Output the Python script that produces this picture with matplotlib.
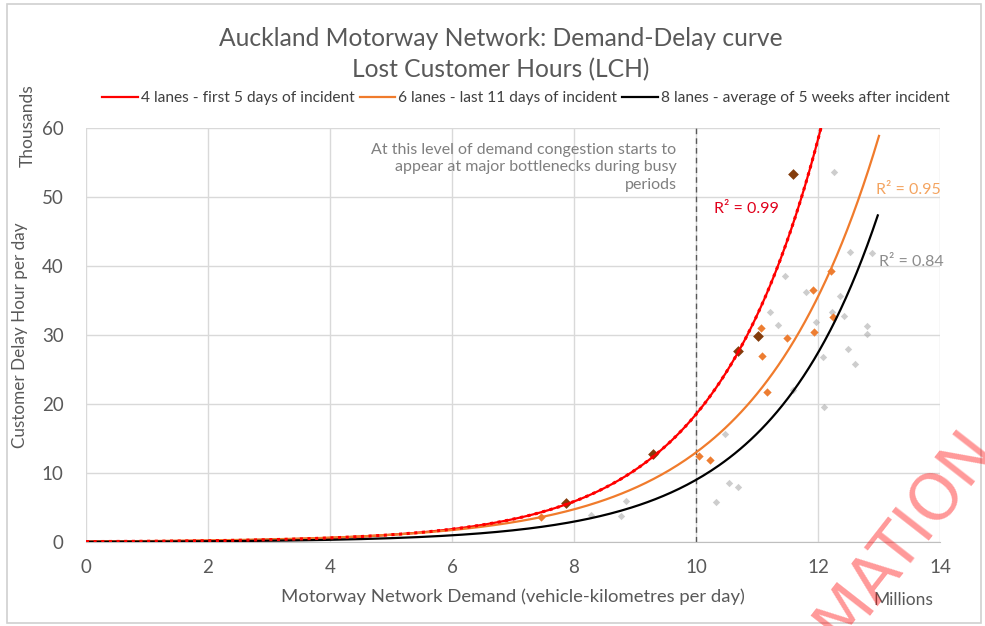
import numpy as np
import matplotlib
matplotlib.use("Agg")
import matplotlib.pyplot as plt
from matplotlib.patches import Rectangle

plt.rcParams["font.family"] = ["Lato", "DejaVu Sans"]

# series names
SERIES = ["4 lanes - first 5 days of incident",
          "6 lanes - last 11 days of incident",
          "8 lanes - average of 5 weeks after incident"]
LINE_COLORS = ["#FF0000", "#F07B2C", "#000000"]

# exponential trendlines y = a * exp(b * x)
TREND_A = [0.0595, 0.084, 0.0343]
TREND_B = [0.574, 0.504, 0.557]
TREND_XMAX = [12.2, 13.0, 12.98]
R2_TEXT = ["R² = 0.99", "R² = 0.95", "R² = 0.84"]

# observed points (millions vkm, thousand hours)
red_x = [7.87, 9.3, 10.69, 11.02, 11.59]
red_y = [5.7, 12.7, 27.7, 29.8, 53.4]

orange_x = [7.46, 10.05, 10.23, 11.07, 11.08, 11.16, 11.49, 11.92, 11.93, 12.21, 12.25]
orange_y = [3.6, 12.4, 11.9, 31.0, 26.9, 21.7, 29.5, 36.5, 30.4, 39.3, 32.6]

grey_x = [8.28, 8.77, 8.85, 10.33, 10.48, 10.54, 10.69, 11.21, 11.34, 11.46, 11.59, 11.8,
          11.97, 12.08, 12.1, 12.23, 12.26, 12.36, 12.43, 12.49, 12.52, 12.61, 12.8, 12.8, 12.89]
grey_y = [3.9, 3.7, 6.0, 5.8, 15.6, 8.6, 8.0, 33.3, 31.4, 38.6, 22.1, 36.2,
          31.9, 26.8, 19.5, 33.3, 53.6, 35.7, 32.8, 27.9, 42.1, 25.8, 31.3, 30.1, 41.9]

THRESHOLD = 10

fig = plt.figure(figsize=(9.85, 6.26), dpi=100)
ax = fig.add_axes([86 / 985, 1 - 542 / 626, (940 - 86) / 985, (542 - 128) / 626])

txt = "#595959"

# scatter points
ax.scatter(grey_x, grey_y, marker="D", s=14, color="#A5A5A5", alpha=0.55, lw=0, zorder=3)
ax.scatter(orange_x, orange_y, marker="D", s=18, color="#ED7D31", lw=0, zorder=4)
ax.scatter(red_x, red_y, marker="D", s=30, color="#843C0C", lw=0, zorder=5)

# trend curves
for i in range(3):
    xs = np.linspace(0, TREND_XMAX[i], 300)
    ys = TREND_A[i] * np.exp(TREND_B[i] * xs)
    ax.plot(xs, ys, color=LINE_COLORS[i], lw=1.6, label=SERIES[i], zorder=6)
xs = np.linspace(0, TREND_XMAX[0], 300)
ax.plot(xs, TREND_A[0] * np.exp(TREND_B[0] * xs), color="#FF0000", lw=2.2, ls=(0, (1, 1.5)), zorder=6)

ax.axvline(THRESHOLD, color="#595959", lw=1, ls=(0, (4, 3)), zorder=2)

ax.set_xlim(0, 14)
ax.set_ylim(0, 60)
ax.set_xticks(range(0, 15, 2))
ax.set_yticks(range(0, 61, 10))
ax.grid(True, color="#D9D9D9", lw=1)
ax.set_axisbelow(True)
for s in ["top", "right", "left"]:
    ax.spines[s].set_visible(False)
ax.spines["bottom"].set_color("#BFBFBF")
ax.tick_params(length=0, labelsize=13.5, colors=txt)
ax.tick_params(axis="y", pad=16)
ax.tick_params(axis="x", pad=12)

ax.set_xlabel("Motorway Network Demand (vehicle-kilometres per day)", fontsize=13.3, color=txt, labelpad=9)
ax.set_ylabel("Customer Delay Hour per day", fontsize=12.3, color=txt, labelpad=10)

ax.text(9.68, 57.8, "At this level of demand congestion starts to\nappear at major bottlenecks during busy\nperiods",
        ha="right", va="top", fontsize=11.5, color="#7F7F7F", linespacing=1.3)

ax.text(10.3, 48.3, R2_TEXT[0], color="#E0001B", fontsize=11.5, va="center")
ax.text(12.95, 51.0, R2_TEXT[1], color="#F4A460", fontsize=11.5, va="center")
ax.text(13.0, 40.6, R2_TEXT[2], color="#8C8C8C", fontsize=11.5, va="center")

fig.text(0.508, 1 - 38 / 626, "Auckland Motorway Network: Demand-Delay curve", ha="center", va="center",
         fontsize=17.7, color=txt)
fig.text(0.508, 1 - 70 / 626, "Lost Customer Hours (LCH)", ha="center", va="center", fontsize=17.7, color=txt)

fig.text(28 / 985, 1 - 126 / 626, "Thousands", rotation=90, ha="center", va="center", fontsize=12.5, color=txt)
fig.text(903 / 985, 1 - 600 / 626, "Millions", ha="center", va="center", fontsize=12.5, color=txt)

fig.legend(loc="center", bbox_to_anchor=(0.534, 1 - 98 / 626), ncol=3, frameon=False, fontsize=11.2,
           handlelength=2.3, handletextpad=0.2, columnspacing=0.3, labelcolor="#404040")

# chart border
fig.patches.append(Rectangle((7 / 985, 1 - 623 / 626), 974 / 985, 619 / 626, transform=fig.transFigure,
                             fill=False, edgecolor="#D0D0D0", lw=1.2))

# watermark fragment, cut by the lower edge as in the source
fig.text(905 / 985, 1 - 535 / 626, "MATION", rotation=52, ha="center", va="center", fontsize=46,
         color="red", alpha=0.4, family="DejaVu Sans")

fig.savefig("out.png", dpi=100)
